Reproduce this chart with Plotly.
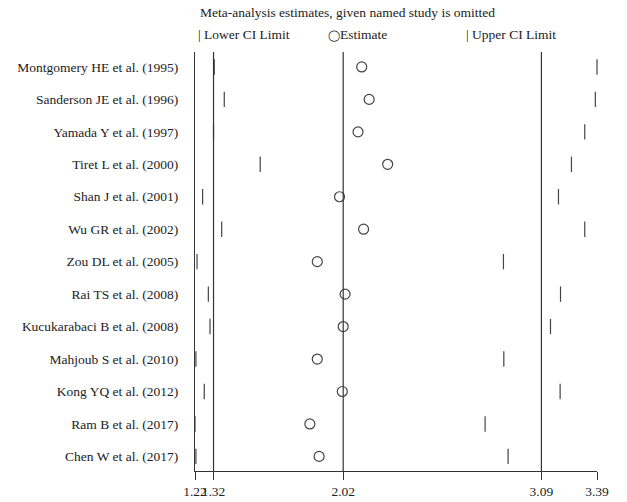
import plotly.graph_objects as go

studies = [
    "Montgomery HE et al. (1995)",
    "Sanderson JE et al. (1996)",
    "Yamada Y et al. (1997)",
    "Tiret L et al. (2000)",
    "Shan J et al. (2001)",
    "Wu GR et al. (2002)",
    "Zou DL et al. (2005)",
    "Rai TS et al. (2008)",
    "Kucukarabaci B et al. (2008)",
    "Mahjoub S et al. (2010)",
    "Kong YQ et al. (2012)",
    "Ram B et al. (2017)",
    "Chen W et al. (2017)",
]
estimate = [2.12, 2.16, 2.10, 2.26, 2.00, 2.13, 1.88, 2.03, 2.02, 1.88, 2.015, 1.84, 1.89]
lower_ci = [1.324, 1.378, 1.32, 1.572, 1.261, 1.364, 1.231, 1.292, 1.301, 1.225, 1.270, 1.22, 1.225]
upper_ci = [3.39, 3.381, 3.324, 3.252, 3.182, 3.324, 2.885, 3.193, 3.139, 2.887, 3.191, 2.786, 2.910]
overall = [1.32, 2.02, 3.09]  # lower CI, estimate, upper CI of the full analysis
x_ticks = [1.22, 1.32, 2.02, 3.09, 3.39]
x_tick_labels = ["1.22", "1.32", "2.02", "3.09", "3.39"]

FONT = "Times New Roman"
INK = "#222222"
MK = "#444444"
FS = 13.5

fig = go.Figure()
fig.add_trace(go.Scatter(x=lower_ci, y=studies, mode="markers", cliponaxis=False,
                         marker=dict(symbol="line-ns-open", size=11, color=MK, line=dict(color=MK, width=1.2)),
                         showlegend=False, hoverinfo="x+y"))
fig.add_trace(go.Scatter(x=estimate, y=studies, mode="markers", cliponaxis=False,
                         marker=dict(symbol="circle-open", size=10, color=MK, line=dict(color=MK, width=1.2)),
                         showlegend=False, hoverinfo="x+y"))
fig.add_trace(go.Scatter(x=upper_ci, y=studies, mode="markers", cliponaxis=False,
                         marker=dict(symbol="line-ns-open", size=11, color=MK, line=dict(color=MK, width=1.2)),
                         showlegend=False, hoverinfo="x+y"))

for v in overall:
    fig.add_shape(type="line", xref="x", yref="paper", x0=v, x1=v, y0=0, y1=1,
                  line=dict(color="#333333", width=1.2))

anns = [
    dict(text="Meta-analysis estimates, given named study is omitted", x=198, y=13),
    dict(text="| Lower CI Limit", x=196, y=35),
    dict(text="<span style='font-size:11px'>\u25ef</span>Estimate", x=326, y=35),
    dict(text="| Upper CI Limit", x=464, y=35),
]
for a in anns:
    fig.add_annotation(text=a["text"], xref="paper", yref="paper",
                       x=(a["x"] - 195) / 402.0, y=1 + (52 - a["y"]) / 419.0,
                       xanchor="left", yanchor="middle", showarrow=False,
                       font=dict(family=FONT, size=FS, color=INK))

fig.update_layout(
    width=627, height=502,
    margin=dict(l=195, r=30, t=52, b=31, pad=0, autoexpand=False),
    paper_bgcolor="white", plot_bgcolor="white",
    font=dict(family=FONT, size=FS, color=INK),
    xaxis=dict(range=[1.22, 3.39], tickvals=x_ticks, ticktext=x_tick_labels,
               tickangle=0, automargin=False,
               showgrid=False, zeroline=False, showline=True, linecolor="#333333", linewidth=1.2,
               ticks="outside", ticklen=8, tickcolor="#333333", tickwidth=1.2,
               tickfont=dict(family=FONT, size=FS, color=INK)),
    yaxis=dict(type="category", categoryorder="array", categoryarray=studies,
               range=[12.45, -0.46], showgrid=False, zeroline=False, automargin=False,
               showline=True, linecolor="#333333", linewidth=1.2, ticks="",
               ticklabelstandoff=13,
               tickfont=dict(family=FONT, size=FS, color=INK)),
)

fig.write_html("out.html")
